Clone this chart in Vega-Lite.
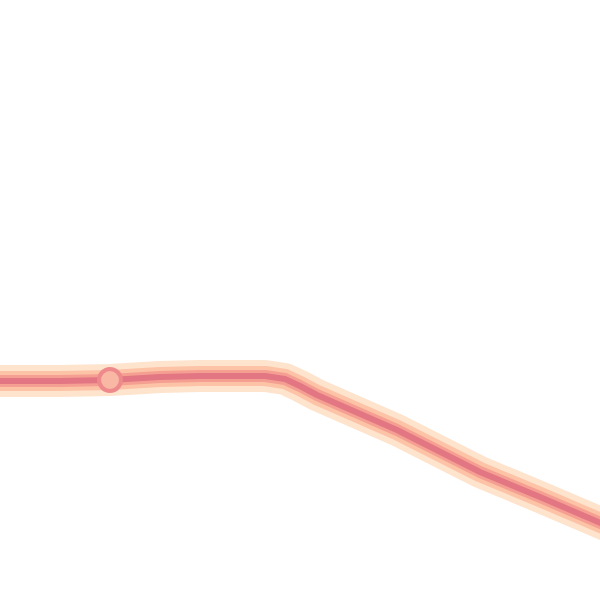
{
  "$schema": "https://vega.github.io/schema/vega-lite/v6.json",
  "width": 600,
  "height": 600,
  "padding": 0,
  "autosize": "none",
  "background": "white",
  "config": {"view": {"stroke": null}},
  "data": {
    "values": [
      {"x": -10, "y": 381},
      {"x": 60, "y": 381},
      {"x": 110, "y": 380},
      {"x": 160, "y": 377},
      {"x": 200, "y": 376},
      {"x": 265, "y": 376},
      {"x": 285, "y": 379},
      {"x": 300, "y": 386},
      {"x": 317, "y": 395},
      {"x": 397, "y": 430},
      {"x": 480, "y": 472},
      {"x": 540, "y": 497},
      {"x": 610, "y": 527}
    ]
  },
  "encoding": {
    "x": {"field": "x", "type": "quantitative", "scale": {"domain": [0, 600], "nice": false, "zero": false}, "axis": null},
    "y": {"field": "y", "type": "quantitative", "scale": {"domain": [600, 0], "nice": false}, "axis": null}
  },
  "layer": [
    {"mark": {"type": "line", "color": "#fee3cd", "strokeWidth": 32, "interpolate": "linear", "strokeJoin": "round", "clip": true}},
    {"mark": {"type": "line", "color": "#fcc3a6", "strokeWidth": 20, "interpolate": "linear", "strokeJoin": "round", "clip": true}},
    {"mark": {"type": "line", "color": "#f59f92", "strokeWidth": 12, "interpolate": "linear", "strokeJoin": "round", "clip": true}},
    {"mark": {"type": "line", "color": "#e27683", "strokeWidth": 6, "interpolate": "linear", "strokeJoin": "round", "clip": true}},
    {
      "transform": [{"filter": "datum.x == 110"}],
      "mark": {"type": "point", "filled": false, "stroke": "#ee8a8c", "strokeWidth": 4, "size": 480, "fill": "#f9b8a4", "fillOpacity": 1}
    }
  ]
}
